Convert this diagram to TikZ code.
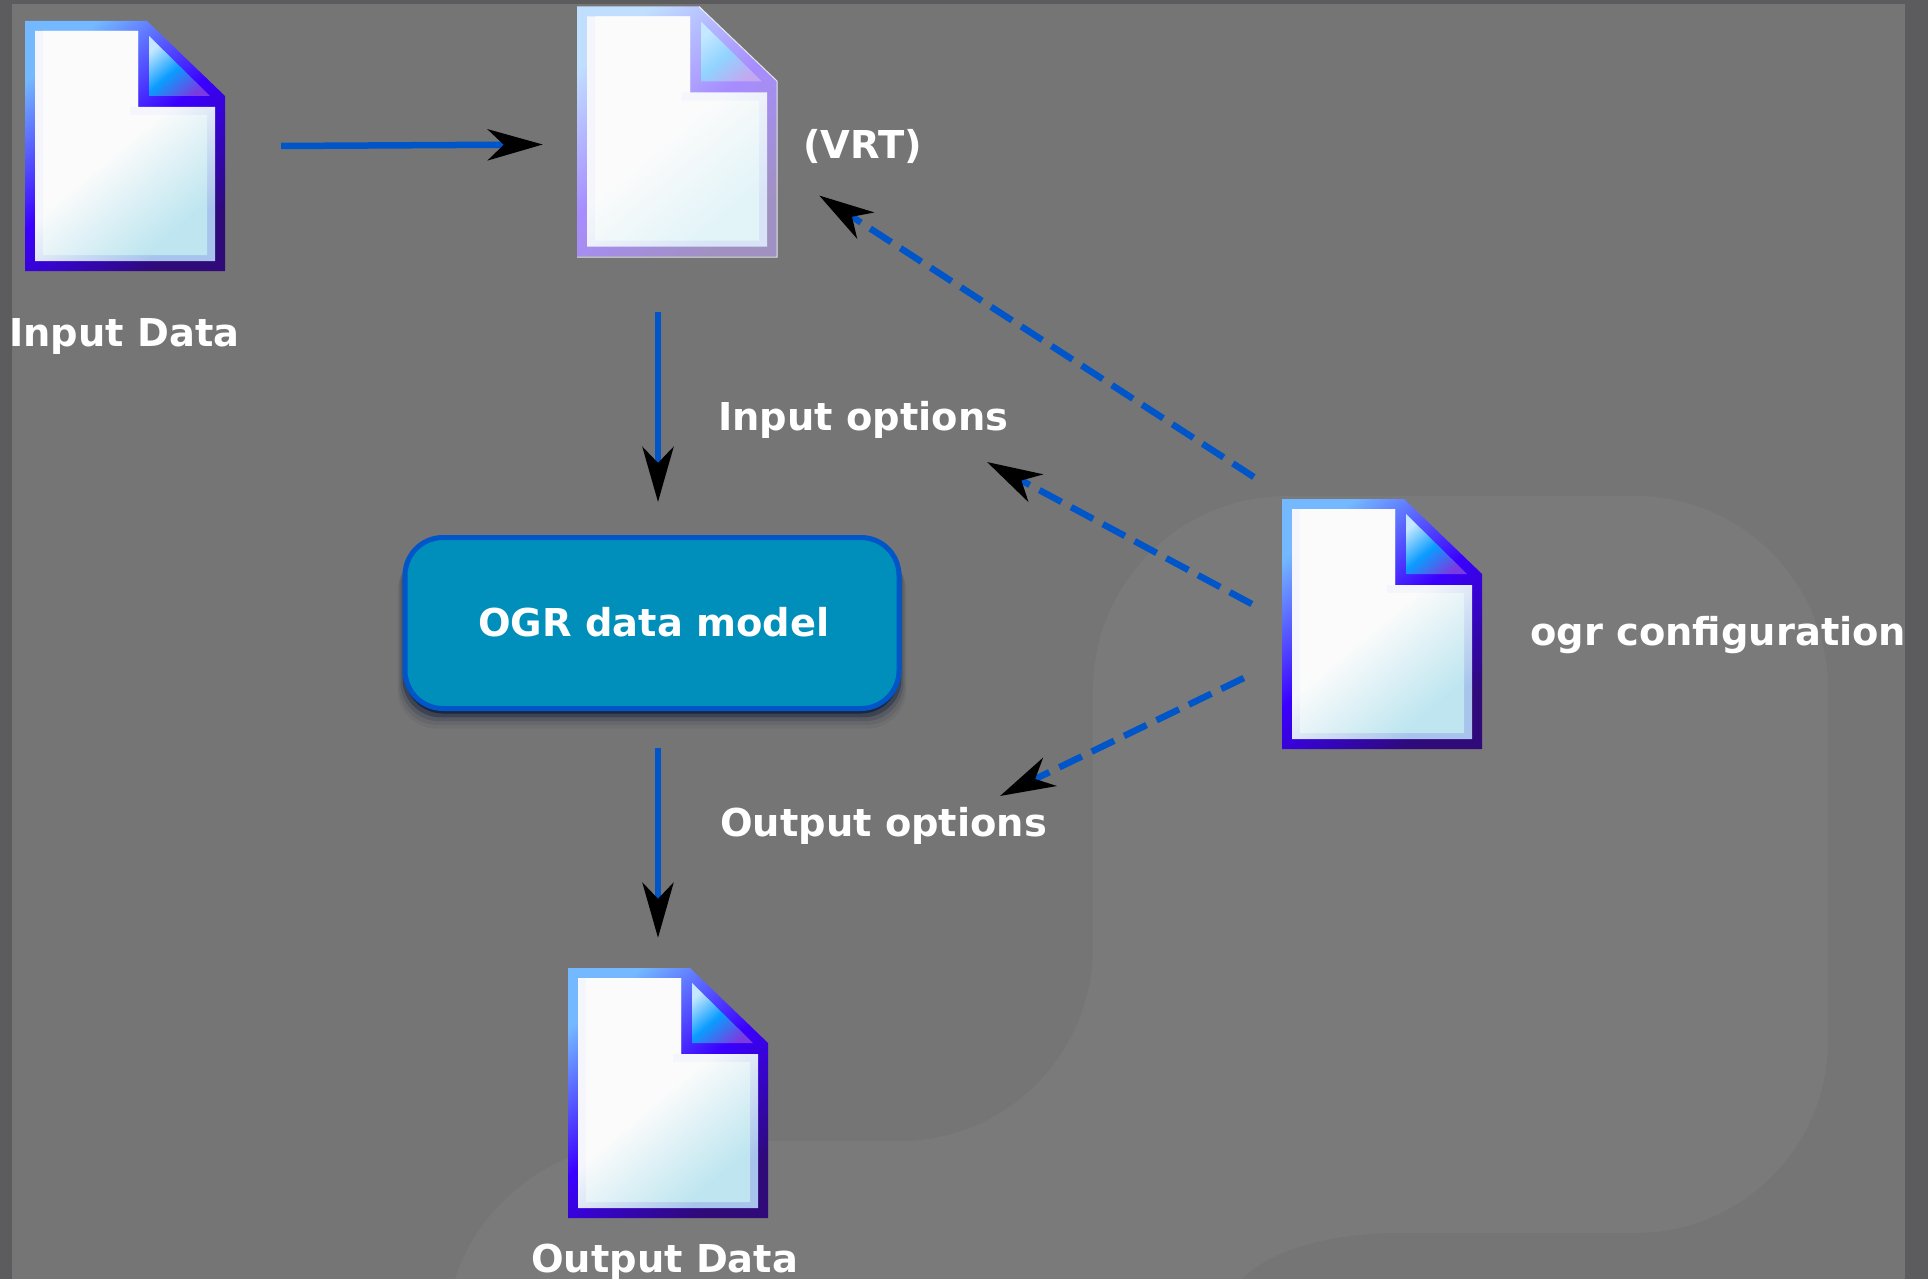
\documentclass[tikz,border=0pt]{standalone}
\usepackage{fontspec}
\setmainfont{DejaVu Sans}
\usetikzlibrary{arrows.meta,shadows}
\definecolor{framegray}{HTML}{5C5C5E}
\definecolor{maingray}{HTML}{757575}
\definecolor{logogray}{HTML}{7A7A7A}
\definecolor{linkblue}{HTML}{0055C8}
\definecolor{modelblue}{HTML}{008FBB}
\definecolor{shadownavy}{HTML}{001030}
\definecolor{doclight}{HTML}{74B8FF}
\definecolor{docmid}{HTML}{3A00FF}
\definecolor{docdark}{HTML}{2F0A78}
\definecolor{pagewhite}{HTML}{FBFBFB}
\definecolor{pageblue}{HTML}{BFE6F0}
\definecolor{bandwhite}{HTML}{F4F6FB}
\definecolor{bandblue}{HTML}{A8C4EC}
\definecolor{foldlight}{HTML}{C4E8FF}
\definecolor{foldmid}{HTML}{0A9CFF}
\definecolor{folddark}{HTML}{7A3CE0}
\tikzset{
  solidlink/.style = {draw=linkblue,line width=6.5pt,-{Stealth[black,length=55pt,width=31pt,inset=16pt]}},
  dashlink/.style = {solidlink,dash pattern=on 25pt off 11pt},
  lbl/.style = {text=white,inner sep=0pt,anchor=base west,font=\fontsize{38.4}{38.4}\selectfont\bfseries},
  softshadow/.style = {
    drop shadow={shadow xshift=0pt,shadow yshift=-17pt,shadow scale=1.03,fill=shadownavy,opacity=.05},
    drop shadow={shadow xshift=0pt,shadow yshift=-14pt,shadow scale=1.025,fill=shadownavy,opacity=.08},
    drop shadow={shadow xshift=0pt,shadow yshift=-11pt,shadow scale=1.018,fill=shadownavy,opacity=.14},
    drop shadow={shadow xshift=0pt,shadow yshift=-8pt,shadow scale=1.01,fill=shadownavy,opacity=.3},
    drop shadow={shadow xshift=0pt,shadow yshift=-5pt,shadow scale=1,fill=shadownavy,opacity=.55}},
  pics/docfile/.style = {code={
    \node[inner sep=0pt,minimum width=200pt,minimum height=250pt] (-body) at (100,125) {};
    \shade[top color=doclight!#1!white,bottom color=docdark!#1!white,middle color=docmid!#1!white,shading angle=40]
      (0,0) -- (122,0) -- (200,75) -- (200,250) -- (0,250) -- cycle;
    \shade[top color=bandwhite,bottom color=bandblue!#1!white,middle color=bandwhite,shading angle=40]
      (10,10) -- (113,10) -- (113,86) -- (190,86) -- (190,240) -- (10,240) -- cycle;
    \shade[top color=pagewhite,bottom color=pageblue!#1!white,middle color=pagewhite,shading angle=40]
      (18,10) -- (113,10) -- (113,86) -- (105,86) -- (105,94) -- (182,94) -- (182,234) -- (18,234) -- cycle;
    \shade[top color=foldlight,bottom color=folddark!#1!white,middle color=foldmid!#1!white,shading angle=40]
      (124,15) -- (124,75) -- (185,75) -- cycle;
  }}
}
\begin{document}
\begin{tikzpicture}[x=1pt,y=-1pt]
  \useasboundingbox (0,0) rectangle (1928,1279);
  % Background
  \fill[maingray] (0,0) rectangle (1928,1279);
  \fill[logogray] (1093,690) .. controls (1093,583) and (1180,496) .. (1287,496) -- (1635,496)
    .. controls (1742,496) and (1828,583) .. (1828,690) -- (1828,1040)
    .. controls (1828,1147) and (1742,1233) .. (1635,1233) -- (1400,1233)
    .. controls (1330,1233) and (1270,1250) .. (1242,1279) -- (455,1279)
    .. controls (480,1200) and (560,1141) .. (650,1141) -- (900,1141)
    .. controls (1007,1141) and (1093,1054) .. (1093,947) -- cycle;

  % Files
  \pic (indata) at (25,21) {docfile=100};
  \pic (vrt) at (577,6.5) {docfile=45};
  \pic (ogr) at (1282,499) {docfile=100};
  \pic (outdata) at (568,968) {docfile=100};
  \draw[white,line width=1pt,opacity=.8] (699,6.5) -- (777,81) -- (777,257) -- (577,257);

  % Model
  \node[draw=linkblue,fill=modelblue,line width=5pt,rounded corners=38pt,minimum width=494pt,minimum height=171pt,inner sep=0pt,softshadow] (model) at (652,623) {};
  \node[lbl] (modellbl) at (478,636) {OGR data model};

  % Labels
  \node[lbl] (indatalbl) at (9,346) {Input Data};
  \node[lbl] (vrtlbl) at (803,158) {(VRT)};
  \node[lbl] (inopts) at (718,430) {Input options};
  \node[lbl] (outopts) at (720,836) {Output options};
  \node[lbl] (ogrlbl) at (1530,645) {ogr configuration};
  \node[lbl] (outdatalbl) at (531,1272) {Output Data};

  % Links
  \draw[solidlink] ([xshift=56pt]indata-body.east) -- ([xshift=-34pt,yshift=-13pt]vrt-body.west);
  \draw[solidlink] ([xshift=-19pt,yshift=-55pt]vrt-body.south) -- ([xshift=6pt,yshift=33pt]model.north);
  \draw[solidlink] ([xshift=6pt,yshift=-37pt]model.south) -- ([xshift=-10pt,yshift=30pt]outdata-body.north);
  \draw[dashlink] ([xshift=-28pt,yshift=147pt]ogr-body.west) -- ([xshift=42pt,yshift=-64pt]vrt-body.east);
  \draw[dashlink] ([xshift=-30pt,yshift=20pt]ogr-body.west) -- ([xshift=269pt,yshift=-32pt]inopts.base west);
  \draw[dashlink] ([xshift=-38pt,yshift=-54pt]ogr-body.west) -- ([xshift=280pt,yshift=40pt]outopts.base west);

  % Frame
  \fill[framegray] (0,0) rectangle (12,1279);
  \fill[framegray] (1905,0) rectangle (1928,1279);
  \fill[framegray] (0,0) rectangle (1928,4);
\end{tikzpicture}
\end{document}
